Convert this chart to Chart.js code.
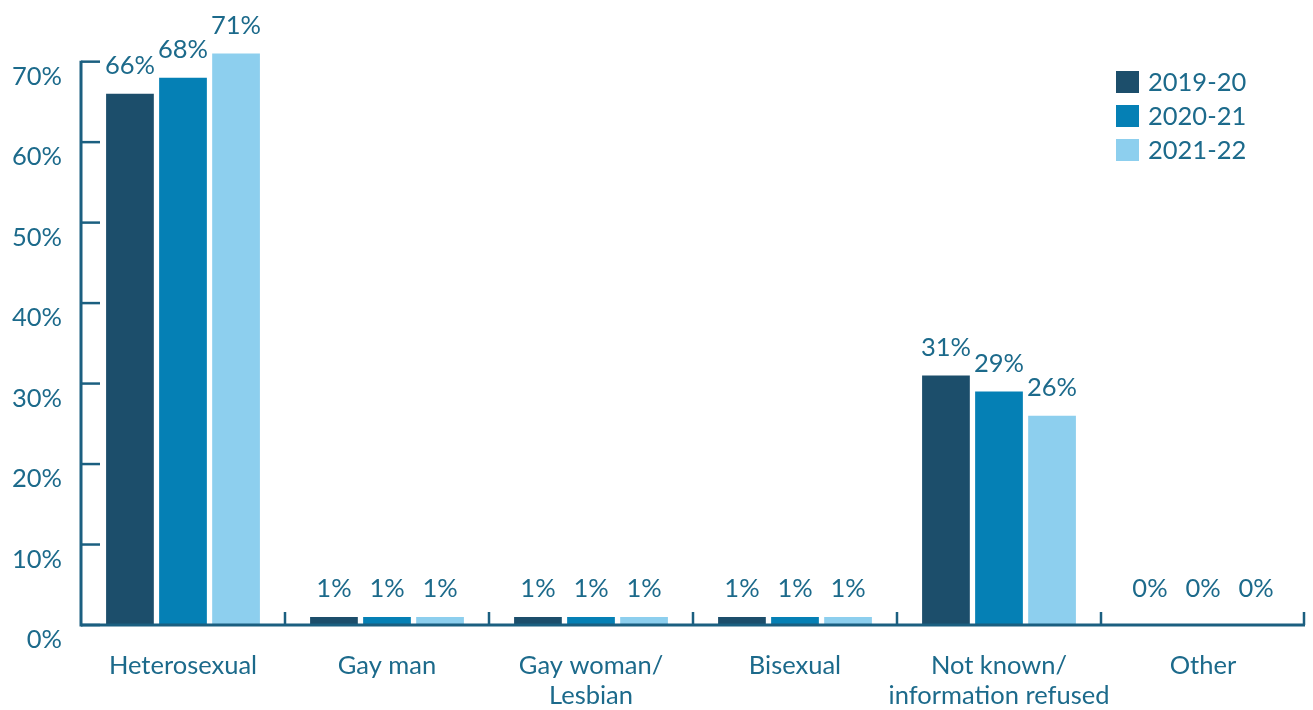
<!DOCTYPE html>
<html>
<head>
<meta charset="utf-8">
<script src="https://cdn.jsdelivr.net/npm/chart.js@4.4.1/dist/chart.umd.min.js"></script>
<style>
  html, body { margin: 0; padding: 0; background: #ffffff; }
  #wrap { width: 1313px; height: 710px; position: relative; }
</style>
</head>
<body>
<div id="wrap"><canvas id="c" width="1313" height="710"></canvas></div>
<script>
// Sexual orientation breakdown, three reporting years
const categories = ['Heterosexual', 'Gay man', ['Gay woman/', 'Lesbian'], 'Bisexual', ['Not known/', 'information refused'], 'Other'];
const seriesNames = ['2019-20', '2020-21', '2021-22'];
const values2019 = [66, 1, 1, 1, 31, 0];
const values2020 = [68, 1, 1, 1, 29, 0];
const values2021 = [71, 1, 1, 1, 26, 0];
const yTicks = [0, 10, 20, 30, 40, 50, 60, 70];

const colors = ['#1c4e6b', '#0580b5', '#8dcfee'];
const ink = '#1c6a8b';
const axisInk = '#1b5f80';
const fontFamily = 'Lato, "Open Sans", sans-serif';
const fontSize = 25.5;

// Axis lines with inward-pointing ticks, drawn from the chart's own scales
const framePlugin = {
  id: 'frame',
  afterDatasetsDraw(chart) {
    const { ctx, chartArea, scales: { x, y } } = chart;
    const y0 = y.getPixelForValue(0);
    const yTop = y.getPixelForValue(yTicks[yTicks.length - 1]);
    ctx.save();
    ctx.strokeStyle = axisInk;
    ctx.lineCap = 'butt';
    // y axis
    ctx.lineWidth = 3;
    ctx.beginPath();
    ctx.moveTo(chartArea.left, y0 + 1.5);
    ctx.lineTo(chartArea.left, yTop - 1);
    ctx.stroke();
    ctx.lineWidth = 2.5;
    yTicks.forEach(v => {
      const py = y.getPixelForValue(v);
      ctx.beginPath();
      ctx.moveTo(chartArea.left, py);
      ctx.lineTo(chartArea.left + 19, py);
      ctx.stroke();
    });
    // x axis
    ctx.lineWidth = 3;
    ctx.beginPath();
    ctx.moveTo(chartArea.left, y0);
    ctx.lineTo(chartArea.right, y0);
    ctx.stroke();
    ctx.lineWidth = 2.5;
    const n = categories.length;
    for (let i = 1; i <= n; i++) {
      const bx = i < n ? (x.getPixelForValue(i - 1) + x.getPixelForValue(i)) / 2 : chartArea.right - 1;
      ctx.beginPath();
      ctx.moveTo(bx, y0);
      ctx.lineTo(bx, y0 - 13);
      ctx.stroke();
    }
    ctx.restore();
  }
};

// Percentage labels above each bar
const valueLabelPlugin = {
  id: 'valueLabels',
  afterDatasetsDraw(chart) {
    const { ctx, scales: { y } } = chart;
    ctx.save();
    ctx.fillStyle = ink;
    ctx.font = fontSize + 'px ' + fontFamily;
    ctx.textAlign = 'center';
    ctx.textBaseline = 'alphabetic';
    chart.data.datasets.forEach((ds, di) => {
      const meta = chart.getDatasetMeta(di);
      meta.data.forEach((bar, i) => {
        const v = ds.data[i];
        const py = y.getPixelForValue(Math.max(v, 1));
        ctx.fillText(v + '%', bar.x, py - 20);
      });
    });
    ctx.restore();
  }
};

// Legend box in the top-right corner of the plot
const legendPlugin = {
  id: 'cornerLegend',
  afterDraw(chart) {
    const { ctx } = chart;
    ctx.save();
    ctx.font = fontSize + 'px ' + fontFamily;
    ctx.textBaseline = 'middle';
    ctx.textAlign = 'left';
    chart.data.datasets.forEach((ds, i) => {
      const top = 71 + i * 34;
      ctx.fillStyle = ds.backgroundColor;
      ctx.fillRect(1116, top, 23, 22);
      ctx.fillStyle = ink;
      ctx.fillText(ds.label, 1148, top + 12);
    });
    ctx.restore();
  }
};

new Chart(document.getElementById('c'), {
  type: 'bar',
  data: {
    labels: categories,
    datasets: [
      { label: seriesNames[0], data: values2019, backgroundColor: colors[0] },
      { label: seriesNames[1], data: values2020, backgroundColor: colors[1] },
      { label: seriesNames[2], data: values2021, backgroundColor: colors[2] }
    ]
  },
  options: {
    responsive: false,
    animation: false,
    layout: { padding: { top: 16, right: 8, left: 0, bottom: 0 } },
    datasets: { bar: { categoryPercentage: 0.78, barPercentage: 0.9 } },
    plugins: {
      legend: { display: false },
      tooltip: { enabled: false }
    },
    scales: {
      x: {
        grid: { display: false, drawTicks: false },
        border: { display: false },
        ticks: {
          color: ink,
          font: { family: fontFamily, size: fontSize, lineHeight: 1.18 },
          padding: 26,
          maxRotation: 0,
          autoSkip: false
        },
        afterFit(s) { s.height = 85; }
      },
      y: {
        min: 0,
        max: 73.4,
        afterBuildTicks(s) { s.ticks = yTicks.map(v => ({ value: v })); },
        grid: { display: false, drawTicks: false },
        border: { display: false },
        ticks: {
          color: ink,
          font: { family: fontFamily, size: fontSize },
          padding: 19,
          labelOffset: 15,
          callback: v => v + '%'
        },
        afterFit(s) { s.width = 81; }
      }
    }
  },
  plugins: [framePlugin, valueLabelPlugin, legendPlugin]
});
</script>
</body>
</html>
